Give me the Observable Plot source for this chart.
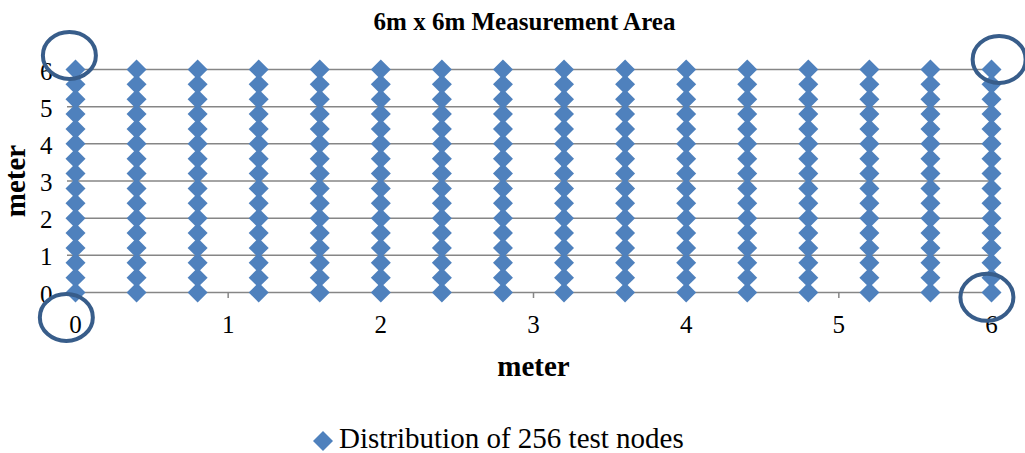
<!DOCTYPE html>
<html><head><meta charset="utf-8">
<script src="https://cdn.jsdelivr.net/npm/d3@7"></script>
<script src="https://cdn.jsdelivr.net/npm/@observablehq/plot@0.6"></script>
<style>
body{margin:0;background:#fff;font-family:"Liberation Serif","Times New Roman",serif;color:#000;}
#wrap{position:relative;width:1025px;height:453px;overflow:hidden;}
#title{position:absolute;left:0;width:1049px;top:9px;text-align:center;font-weight:bold;font-size:25px;line-height:25px;white-space:nowrap;}
#chart{position:absolute;left:0;top:40px;}
#legendKey{position:absolute;left:313px;top:431px;}
#legendText{position:absolute;left:339px;top:424px;font-size:29px;line-height:29px;white-space:nowrap;}
</style></head>
<body>
<div id="wrap">
  <div id="title"></div>
  <div id="chart"></div>
  <svg id="legendKey" width="20" height="20"><polygon points="10,0 20,10 10,20 0,10" fill="#4F81BD"/></svg>
  <div id="legendText"></div>
</div>
<script>
const titleText = "6m x 6m Measurement Area";
const xLabel = "meter";
const yLabel = "meter";
const seriesName = "Distribution of 256 test nodes";
const colsX = [0, 0.4, 0.8, 1.2, 1.6, 2.0, 2.4, 2.8, 3.2, 3.6, 4.0, 4.4, 4.8, 5.2, 5.6, 6.0];
const rowsY = [0, 0.4, 0.8, 1.2, 1.6, 2.0, 2.4, 2.8, 3.2, 3.6, 4.0, 4.4, 4.8, 5.2, 5.6, 6.0];
const xTicks = [0, 1, 2, 3, 4, 5, 6];
const yTicks = [0, 1, 2, 3, 4, 5, 6];
// corner highlight rings (annotation centres, in metres)
const ringX = [-0.04, 6.05, -0.06, 5.97];
const ringY = [6.38, 6.27, -0.67, -0.13];

document.getElementById("title").textContent = titleText;
document.getElementById("legendText").textContent = seriesName;

const nodes = colsX.flatMap(x => rowsY.map(y => ({x, y})));
const rings = ringX.map((x, i) => ({x, y: ringY[i]}));

const ellipse = {
  draw(ctx) {
    const rx = 26.5, ry = 23.5, k = 0.5523;
    ctx.moveTo(rx, 0);
    ctx.bezierCurveTo(rx, ry * k, rx * k, ry, 0, ry);
    ctx.bezierCurveTo(-rx * k, ry, -rx, ry * k, -rx, 0);
    ctx.bezierCurveTo(-rx, -ry * k, -rx * k, -ry, 0, -ry);
    ctx.bezierCurveTo(rx * k, -ry, rx, -ry * k, rx, 0);
    ctx.closePath();
  }
};

const chart = Plot.plot({
  width: 1025,
  height: 360,
  marginLeft: 75,
  marginRight: 34,
  marginTop: 29,
  marginBottom: 108,
  x: {domain: [0, 6]},
  y: {domain: [0, 6]},
  style: {fontFamily: '"Liberation Serif","Times New Roman",serif', fontSize: "25px", color: "#000", background: "transparent", overflow: "visible"},
  marks: [
    Plot.gridY(yTicks, {stroke: "#868686", strokeOpacity: 1, strokeWidth: 1.5, insetLeft: -8}),
    Plot.axisX(xTicks, {tickSize: 6, tickPadding: 17, stroke: "#868686", strokeWidth: 1.5, fontSize: 25, label: null, tickFormat: "d"}),
    Plot.axisY(yTicks, {tickSize: 0, tickPadding: 23, fontSize: 25, label: null, dy: 2, tickFormat: "d"}),
    Plot.dot(nodes, {x: "x", y: "y", symbol: "diamond2", r: 9, fill: "#4F81BD"}),
    Plot.dot(rings, {x: "x", y: "y", symbol: ellipse, r: 10, fill: "none", stroke: "#385D8A", strokeWidth: 4}),
    Plot.text([yLabel], {frameAnchor: "left", dx: -60, rotate: -90, text: d => d, fontWeight: "bold", fontSize: 29, textAnchor: "middle", lineAnchor: "middle"}),
    Plot.text([xLabel], {frameAnchor: "bottom", dy: 74, text: d => d, fontWeight: "bold", fontSize: 29, textAnchor: "middle", lineAnchor: "middle"})
  ]
});
document.getElementById("chart").appendChild(chart);
</script>
</body></html>
